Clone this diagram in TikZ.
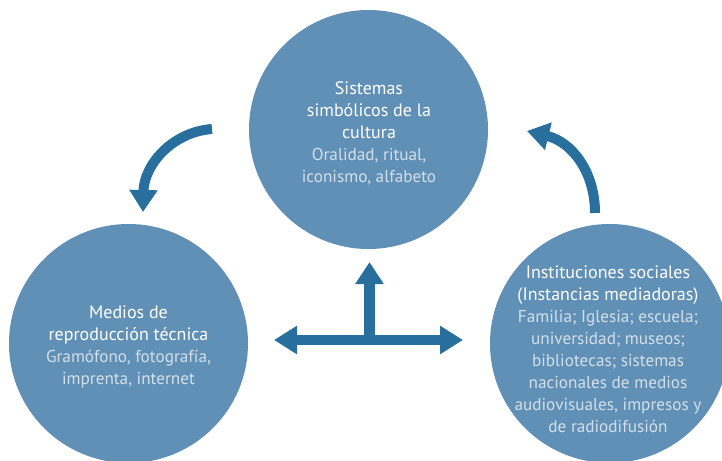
\documentclass[tikz,border=0pt]{standalone}
\usepackage{fontspec}
\setmainfont{PT Sans}
\usetikzlibrary{arrows.meta}
\definecolor{circfill}{HTML}{6090B5}
\definecolor{arrowblue}{HTML}{296F9D}
\definecolor{subtext}{HTML}{D3E0EB}
\tikzset{
  bubble/.style={circle, fill=circfill, minimum size=239pt, inner sep=0pt},
  bubbletext/.style={align=center, text=white, font=\fontsize{18}{22}\selectfont, inner sep=0pt},
  bigarrow/.style={draw=arrowblue, line width=10pt, -{Triangle[width=27pt,length=22pt]}},
}
\newcommand{\sub}[1]{{\fontsize{17.2}{22}\selectfont\textcolor{subtext}{#1}}}
\begin{document}
\begin{tikzpicture}[x=1pt,y=-1pt]
\clip (0,0) rectangle (722,460);
\fill[white] (0,0) rectangle (722,460);
\node[bubble] (top) at (368.5,129.5) {};
\node[bubble] (left) at (128.5,343.5) {};
\node[bubble] (right) at (609.5,343.5) {};
\node[bubbletext] (toptext) at (369,133.5) {Sistemas\\simbólicos de la\\cultura\\\sub{Oralidad, ritual,}\\\sub{iconismo, alfabeto}};
\node[bubbletext] (lefttext) at (128.5,346.5) {Medios de\\reproducción técnica\\\sub{Gramófono, fotografía,}\\\sub{imprenta, internet}};
\node[bubbletext] (righttext) at (608,349) {Instituciones sociales\\(Instancias mediadoras)\\\sub{Familia; Iglesia; escuela;}\\\sub{universidad; museos;}\\\sub{bibliotecas; sistemas}\\\sub{nacionales de medios}\\\sub{audiovisuales, impresos y}\\\sub{de radiodifusión}};
\coordinate (la) at (212,129);
\coordinate (lb) at (143,212);
\draw[bigarrow] (la) .. controls (172,132) and (144,165) .. (lb);
\coordinate (ra) at (595,213);
\coordinate (rb) at (527,131);
\draw[bigarrow] (ra) .. controls (595,172) and (572,142) .. (rb);
\coordinate (hl) at (274,340);
\coordinate (hr) at (463,340);
\coordinate (hm) at (369.5,340);
\coordinate (vt) at (369.5,262);
\draw[bigarrow, {Triangle[width=27pt,length=23pt]}-{Triangle[width=27pt,length=23pt]}] (hl) -- (hr);
\draw[bigarrow, line width=11pt] ([yshift=-5pt]hm) -- (vt);
\end{tikzpicture}
\end{document}
